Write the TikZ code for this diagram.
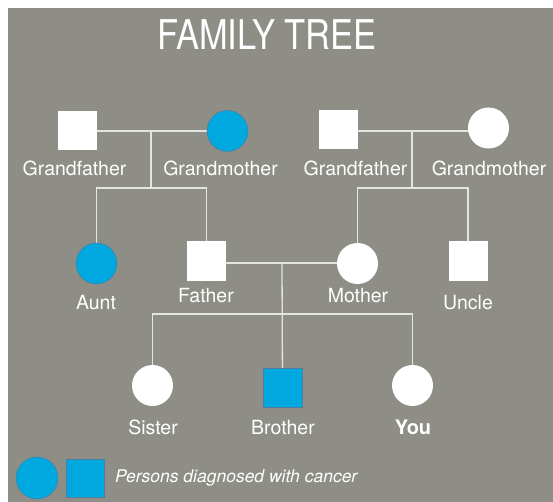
\documentclass[tikz,border=0pt]{standalone}
\usepackage{fontspec}
\setmainfont{TeX Gyre Heros}
\usetikzlibrary{backgrounds}
\definecolor{bggray}{HTML}{8E8E86}
\definecolor{cblue}{HTML}{00A8E0}
\definecolor{cedge}{HTML}{4A7FA0}
\definecolor{linec}{HTML}{E4E4E0}
\tikzset{
  sq/.style={rectangle, fill=white, minimum size=39pt, inner sep=0pt},
  ci/.style={circle, fill=white, minimum size=41pt, inner sep=0pt},
  ill/.style={fill=cblue, draw=cedge, line width=0.5pt},
  lab/.style={anchor=base, text=white, inner sep=0pt, font=\fontsize{19.5}{20}\selectfont},
  conn/.style={draw=linec, line width=1.3pt}
}
\begin{document}
\begin{tikzpicture}[x=1pt,y=-1pt]
\useasboundingbox (0,0) rectangle (553,502);

\node[anchor=base, text=white, inner sep=0pt, font=\fontsize{41}{41}\selectfont] (title) at (267,50) {\scalebox{0.84}[1]{FAMILY TREE}};

% persons
\node[sq] (gf1) at (77.5,131) {};
\node[ci, ill] (gm1) at (227.5,131) {};
\node[sq] (gf2) at (338.5,130) {};
\node[ci] (gm2) at (488.5,128) {};
\node[ci, ill] (aunt) at (96.5,263.5) {};
\node[sq] (father) at (206.5,261) {};
\node[ci] (mother) at (357.5,263.5) {};
\node[sq] (uncle) at (468,261) {};
\node[ci] (sister) at (152.5,385.5) {};
\node[sq, ill] (brother) at (282.5,387.5) {};
\node[ci] (you) at (412.5,385.5) {};

% junctions
\coordinate (c1) at (151,131.5);
\coordinate (j1) at (151,188);
\coordinate (c2) at (412,131);
\coordinate (j2) at (412,188);
\coordinate (c3) at (282,263);
\coordinate (j3) at (282,314);

\begin{scope}[on background layer]
\fill[white] (0,0) rectangle (553,502);
\fill[bggray] (8,8) rectangle (553,502);
\draw[conn] (gf1) -- (gm1);
\draw[conn] (c1) -- (j1);
\draw[conn] (aunt) -- (aunt |- j1) -- (father |- j1) -- (father);
\draw[conn] (gf2.east |- c2) -- (gm2.center |- c2);
\draw[conn] (c2) -- (j2);
\draw[conn] (mother) -- (mother |- j2) -- (uncle |- j2) -- (uncle);
\draw[conn] (father.east |- c3) -- (mother.center |- c3);
\draw[conn] (c3) -- (brother);
\draw[conn] (sister) -- (sister |- j3) -- (you |- j3) -- (you);
\end{scope}

% labels
\node[lab] (lgf1) at (74.5,176) {Grandfather};
\node[lab] (lgm1) at (220.5,176) {Grandmother};
\node[lab] (lgf2) at (355.5,176) {Grandfather};
\node[lab] (lgm2) at (489,176) {Grandmother};
\node[lab] (launt) at (96,309) {Aunt};
\node[lab] (lfather) at (206,302) {Father};
\node[lab] (lmother) at (358,302) {Mother};
\node[lab] (luncle) at (468,309) {Uncle};
\node[lab] (lsister) at (153,434) {Sister};
\node[lab] (lbrother) at (283,434) {Brother};
\node[lab, font=\fontsize{20}{20}\selectfont\bfseries] (lyou) at (413,434) {You};

% legend
\node[ci, ill, minimum size=42pt] (legc) at (37,478) {};
\node[sq, ill, minimum size=38pt] (legs) at (85.5,478) {};
\node[anchor=base west, text=white, inner sep=0pt, font=\fontsize{17.5}{18}\selectfont\itshape] (legt) at (115,482) {Persons diagnosed with cancer};
\end{tikzpicture}
\end{document}
